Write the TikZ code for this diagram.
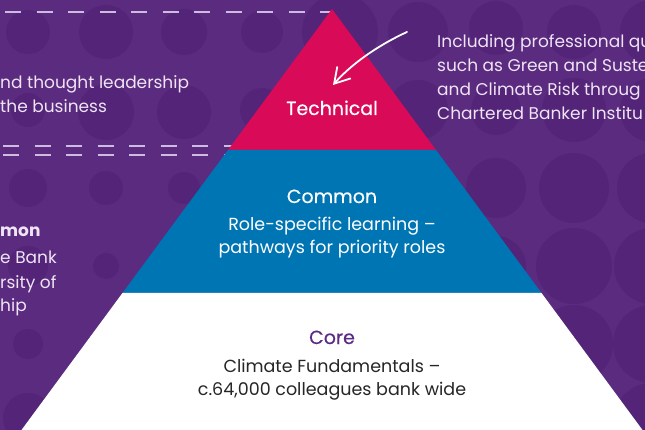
\documentclass[tikz,border=0pt]{standalone}
\usepackage{fontspec}
\setmainfont{Poppins}
\usetikzlibrary{arrows.meta}

\definecolor{bgpurple}{HTML}{5B2B80}
\definecolor{dotpurple}{HTML}{532478}
\definecolor{techred}{HTML}{D90A58}
\definecolor{commonblue}{HTML}{0075B4}
\definecolor{corepurple}{HTML}{5B2B86}
\definecolor{lavender}{HTML}{EEE4F4}
\definecolor{dashlav}{HTML}{CDBBE0}

\begin{document}
\begin{tikzpicture}[x=1pt,y=-1pt,>={Straight Barb[length=15pt,width=18pt]},line cap=round]

    \tikzstyle{dot}=[fill=dotpurple]
    \tikzstyle{dashline}=[draw=dashlav,line width=1.2pt,line cap=butt,dash pattern=on 16pt off 15.5pt]
    \tikzstyle{sidetext}=[text=lavender,font=\fontsize{17}{24}\selectfont,anchor=base west,inner sep=0pt,align=left]
    \tikzstyle{tiername}=[font=\fontsize{19}{22}\selectfont\addfontfeatures{FakeBold=0.4},anchor=base,inner sep=0pt]
    \tikzstyle{tiertext}=[font=\fontsize{17.5}{23}\selectfont,anchor=base,inner sep=0pt,align=center]

    \fill[bgpurple] (0,0) rectangle (645,430);
    \useasboundingbox (0,0) rectangle (645,430);

    % background dots
    \foreach \cx/\cy/\r in {28/32/22,106/32/27,184/32/23,262/32/21,340/32/38,418/32/30,496/28/27,574/32/27,652/32/32,
                           28/110/17,106/112/28,184/112/27,262/110/22,418/110/30,496/110/25,574/110/32,652/110/32,
                           28/188/19,106/188/17,184/188/16,496/188/30,574/188/35,652/188/35,
                           28/266/20,106/266/13,496/266/30,574/266/38,652/266/38,
                           28/344/15,574/344/39,652/344/39,
                           28/418/25,574/422/39,652/422/39}
      \fill[dot] (\cx,\cy) circle (\r);

    \draw[dashline] (5,12) -- (332,12);
    \draw[dashline] (3,146) -- (240,146);
    \draw[dashline] (3,155) -- (240,155);

    % pyramid
    \coordinate (apex)  at (332,9);
    \coordinate (techL) at (228,150);
    \coordinate (techR) at (436,150);
    \coordinate (comL)  at (122.5,293);
    \coordinate (comR)  at (541.5,293);
    \coordinate (coreL) at (21.5,430);
    \coordinate (coreR) at (642.5,430);

    \fill[techred]    (apex) -- (techR) -- (techL) -- cycle;
    \fill[commonblue] (techL) -- (techR) -- (comR) -- (comL) -- cycle;
    \fill[white]      (comL) -- (comR) -- (coreR) -- (coreL) -- cycle;

    % base anchor of a multi-line node sits on its last line
    \node[tiername,text=white]      (tech)     at (332,115) {Technical};
    \node[tiername,text=white]      (common)   at (332,203) {Common};
    \node[tiertext,text=white]      (commontx) at (332,254) {Role-specific learning --\\pathways for priority roles};
    \node[tiername,text=corepurple] (core)     at (332,344) {Core};
    \node[tiertext,text=black!85]   (coretx)   at (332,395) {Climate Fundamentals --\\c.64,000 colleagues bank wide};

    \node[sidetext] (leadtx) at (0,113)  {nd thought leadership\\the business};
    \node[sidetext] (qualtx) at (437,120) {Including professional qu\\such as Green and Suste\\and Climate Risk throug\\Chartered Banker Institu};
    \node[sidetext] (unihd)  at (0,237)  {\bfseries mon};
    \node[sidetext] (unitx)  at (0,312)  {e Bank\\rsity of\\hip};

    \coordinate (arrowstart) at (407,32);
    \coordinate (arrowtip)   at (333,85);
    \draw[->,white,line width=1.8pt] (arrowstart) .. controls (385,42) and (355,60) .. (arrowtip);

\end{tikzpicture}
\end{document}
